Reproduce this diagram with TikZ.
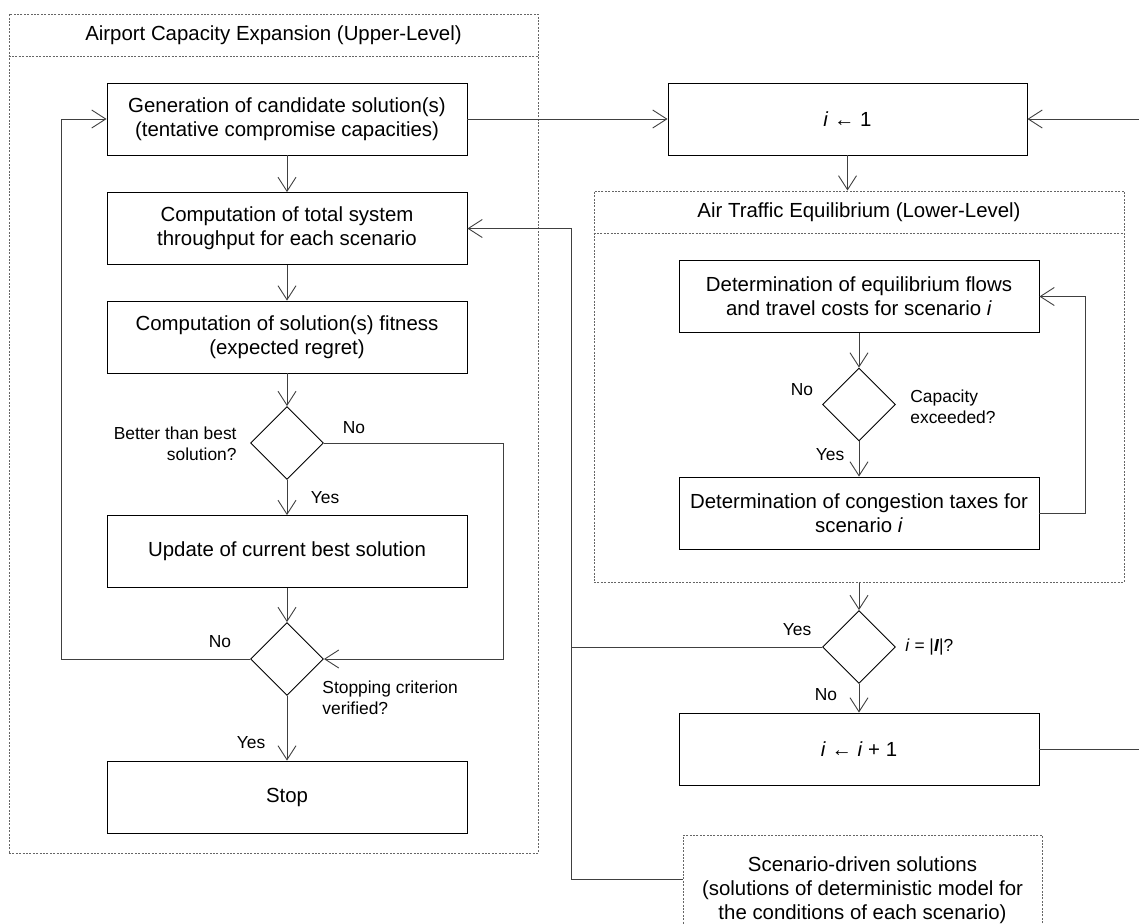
\documentclass[tikz,border=0pt]{standalone}
\usepackage{fontspec}
\setmainfont{Liberation Sans}
\usetikzlibrary{shapes.geometric,arrows.meta}

\begin{document}
\begin{tikzpicture}[x=0.5pt,y=-0.5pt,
	>={Straight Barb[length=7pt,width=9pt]},
	box/.style={draw=black,line width=0.45pt,minimum width=180pt,minimum height=36pt,align=center,inner sep=2pt,font=\fontsize{10.2pt}{12pt}\selectfont},
	test/.style={diamond,draw=black,line width=0.45pt,minimum width=36.5pt,minimum height=36.5pt,inner sep=0pt},
	levelframe/.style={draw=black!60,line width=0.5pt,dash pattern=on 1pt off 0.7pt},
	title/.style={font=\fontsize{10.2pt}{12pt}\selectfont},
	lbl/.style={font=\fontsize{8.7pt}{10.5pt}\selectfont,inner sep=0pt},
	link/.style={draw=black!75,line width=0.45pt},
	flow/.style={link,->}]
	\useasboundingbox (0,0) rectangle (1139,923);
	\clip (0,0) rectangle (1139,923);

	\node[levelframe,minimum width=264.5pt,minimum height=419.5pt] (upper) at (273.5,433.5) {};
	\draw[levelframe] ([yshift=-21.5pt]upper.north west) -- ([yshift=-21.5pt]upper.north east);
	\node[title] (uppertitle) at (273.5,35.5) {Airport Capacity Expansion (Upper-Level)};

	\node[levelframe,minimum width=265pt,minimum height=195.5pt] (lower) at (859,386.5) {};
	\draw[levelframe] ([yshift=-21.5pt]lower.north west) -- ([yshift=-21.5pt]lower.north east);
	\node[title] (lowertitle) at (859,212.5) {Air Traffic Equilibrium (Lower-Level)};

	\node[box] (gen) at (287,119) {Generation of candidate solution(s)\\(tentative compromise capacities)};
	\node[box] (thr) at (287,228.5) {Computation of total system\\throughput for each scenario};
	\node[box] (fit) at (287,337) {Computation of solution(s) fitness\\(expected regret)};
	\node[test] (better) at (287,443) {};
	\node[box] (upd) at (287,551.5) {Update of current best solution};
	\node[test] (stopping) at (287,659) {};
	\node[box] (stop) at (287,797) {Stop};

	\node[box,minimum width=179.5pt] (i1) at (847.5,119) {\textit{i} ← 1};
	\node[box] (eq) at (859,296.5) {Determination of equilibrium flows\\and travel costs for scenario \textit{i}};
	\node[test] (cap) at (859,404.5) {};
	\node[box] (cong) at (859,513) {Determination of congestion taxes for\\scenario \textit{i}};
	\node[test] (last) at (859,647) {};
	\node[box] (inc) at (859,749) {\textit{i} ← \textit{i} + 1};
	\node[box,levelframe,minimum width=179.5pt,minimum height=55pt] (scen) at (862.5,890) {Scenario-driven solutions\\(solutions of deterministic model for\\the conditions of each scenario)};

	\node[lbl,anchor=east,align=right] (betterq) at (237,444) {Better than best\\solution?};
	\node[lbl] (betterno) at (354,428) {No};
	\node[lbl] (betteryes) at (325,498) {Yes};
	\node[lbl] (stopno) at (220,642) {No};
	\node[lbl,anchor=west,align=left] (stopq) at (322,698) {Stopping criterion\\verified?};
	\node[lbl] (stopyes) at (251,743) {Yes};
	\node[lbl] (capno) at (802,390) {No};
	\node[lbl,anchor=west,align=left] (capq) at (910,406.5) {Capacity\\exceeded?};
	\node[lbl] (capyes) at (830,455) {Yes};
	\node[lbl] (lastyes) at (797,630) {Yes};
	\node[lbl,anchor=west] (lastq) at (905,647) {\textit{i} = |\textbf{\textit{I}}|?};
	\node[lbl] (lastno) at (826,695) {No};

	\coordinate (skip) at (503,443);
	\coordinate (back) at (61,659);
	\coordinate (rin) at (1139,119);
	\coordinate (rout) at (1139,749);
	\coordinate (tax) at (1085,513);
	\coordinate (bus) at (571,228.5);

	\draw[flow] (gen) -- (thr);
	\draw[flow] (thr) -- (fit);
	\draw[flow] (fit) -- (better);
	\draw[flow] (better) -- (upd);
	\draw[flow] (upd) -- (stopping);
	\draw[flow] (stopping) -- (stop);
	\draw[flow] (better.east) -- (skip) |- (stopping.east);
	\draw[flow] (stopping.west) -- (back) |- (gen.west);

	\draw[flow] (gen.east) -- (i1.west);
	\draw[flow] (rin) -- (i1.east);
	\draw[flow] (i1.south) -- (i1.south |- lower.north);
	\draw[flow] (eq) -- (cap);
	\draw[flow] (cap) -- (cong);
	\draw[flow] (cong.east) -- (tax) |- (eq.east);
	\draw[flow] (last.north |- lower.south) -- (last);
	\draw[flow] (last) -- (inc);
	\draw[link] (inc.east) -- (rout);
	\draw[flow] ([yshift=5.5pt]scen.west) -| (bus) -- (thr.east);
	\draw[link] (last.west) -- (last.west -| bus);
\end{tikzpicture}
\end{document}
